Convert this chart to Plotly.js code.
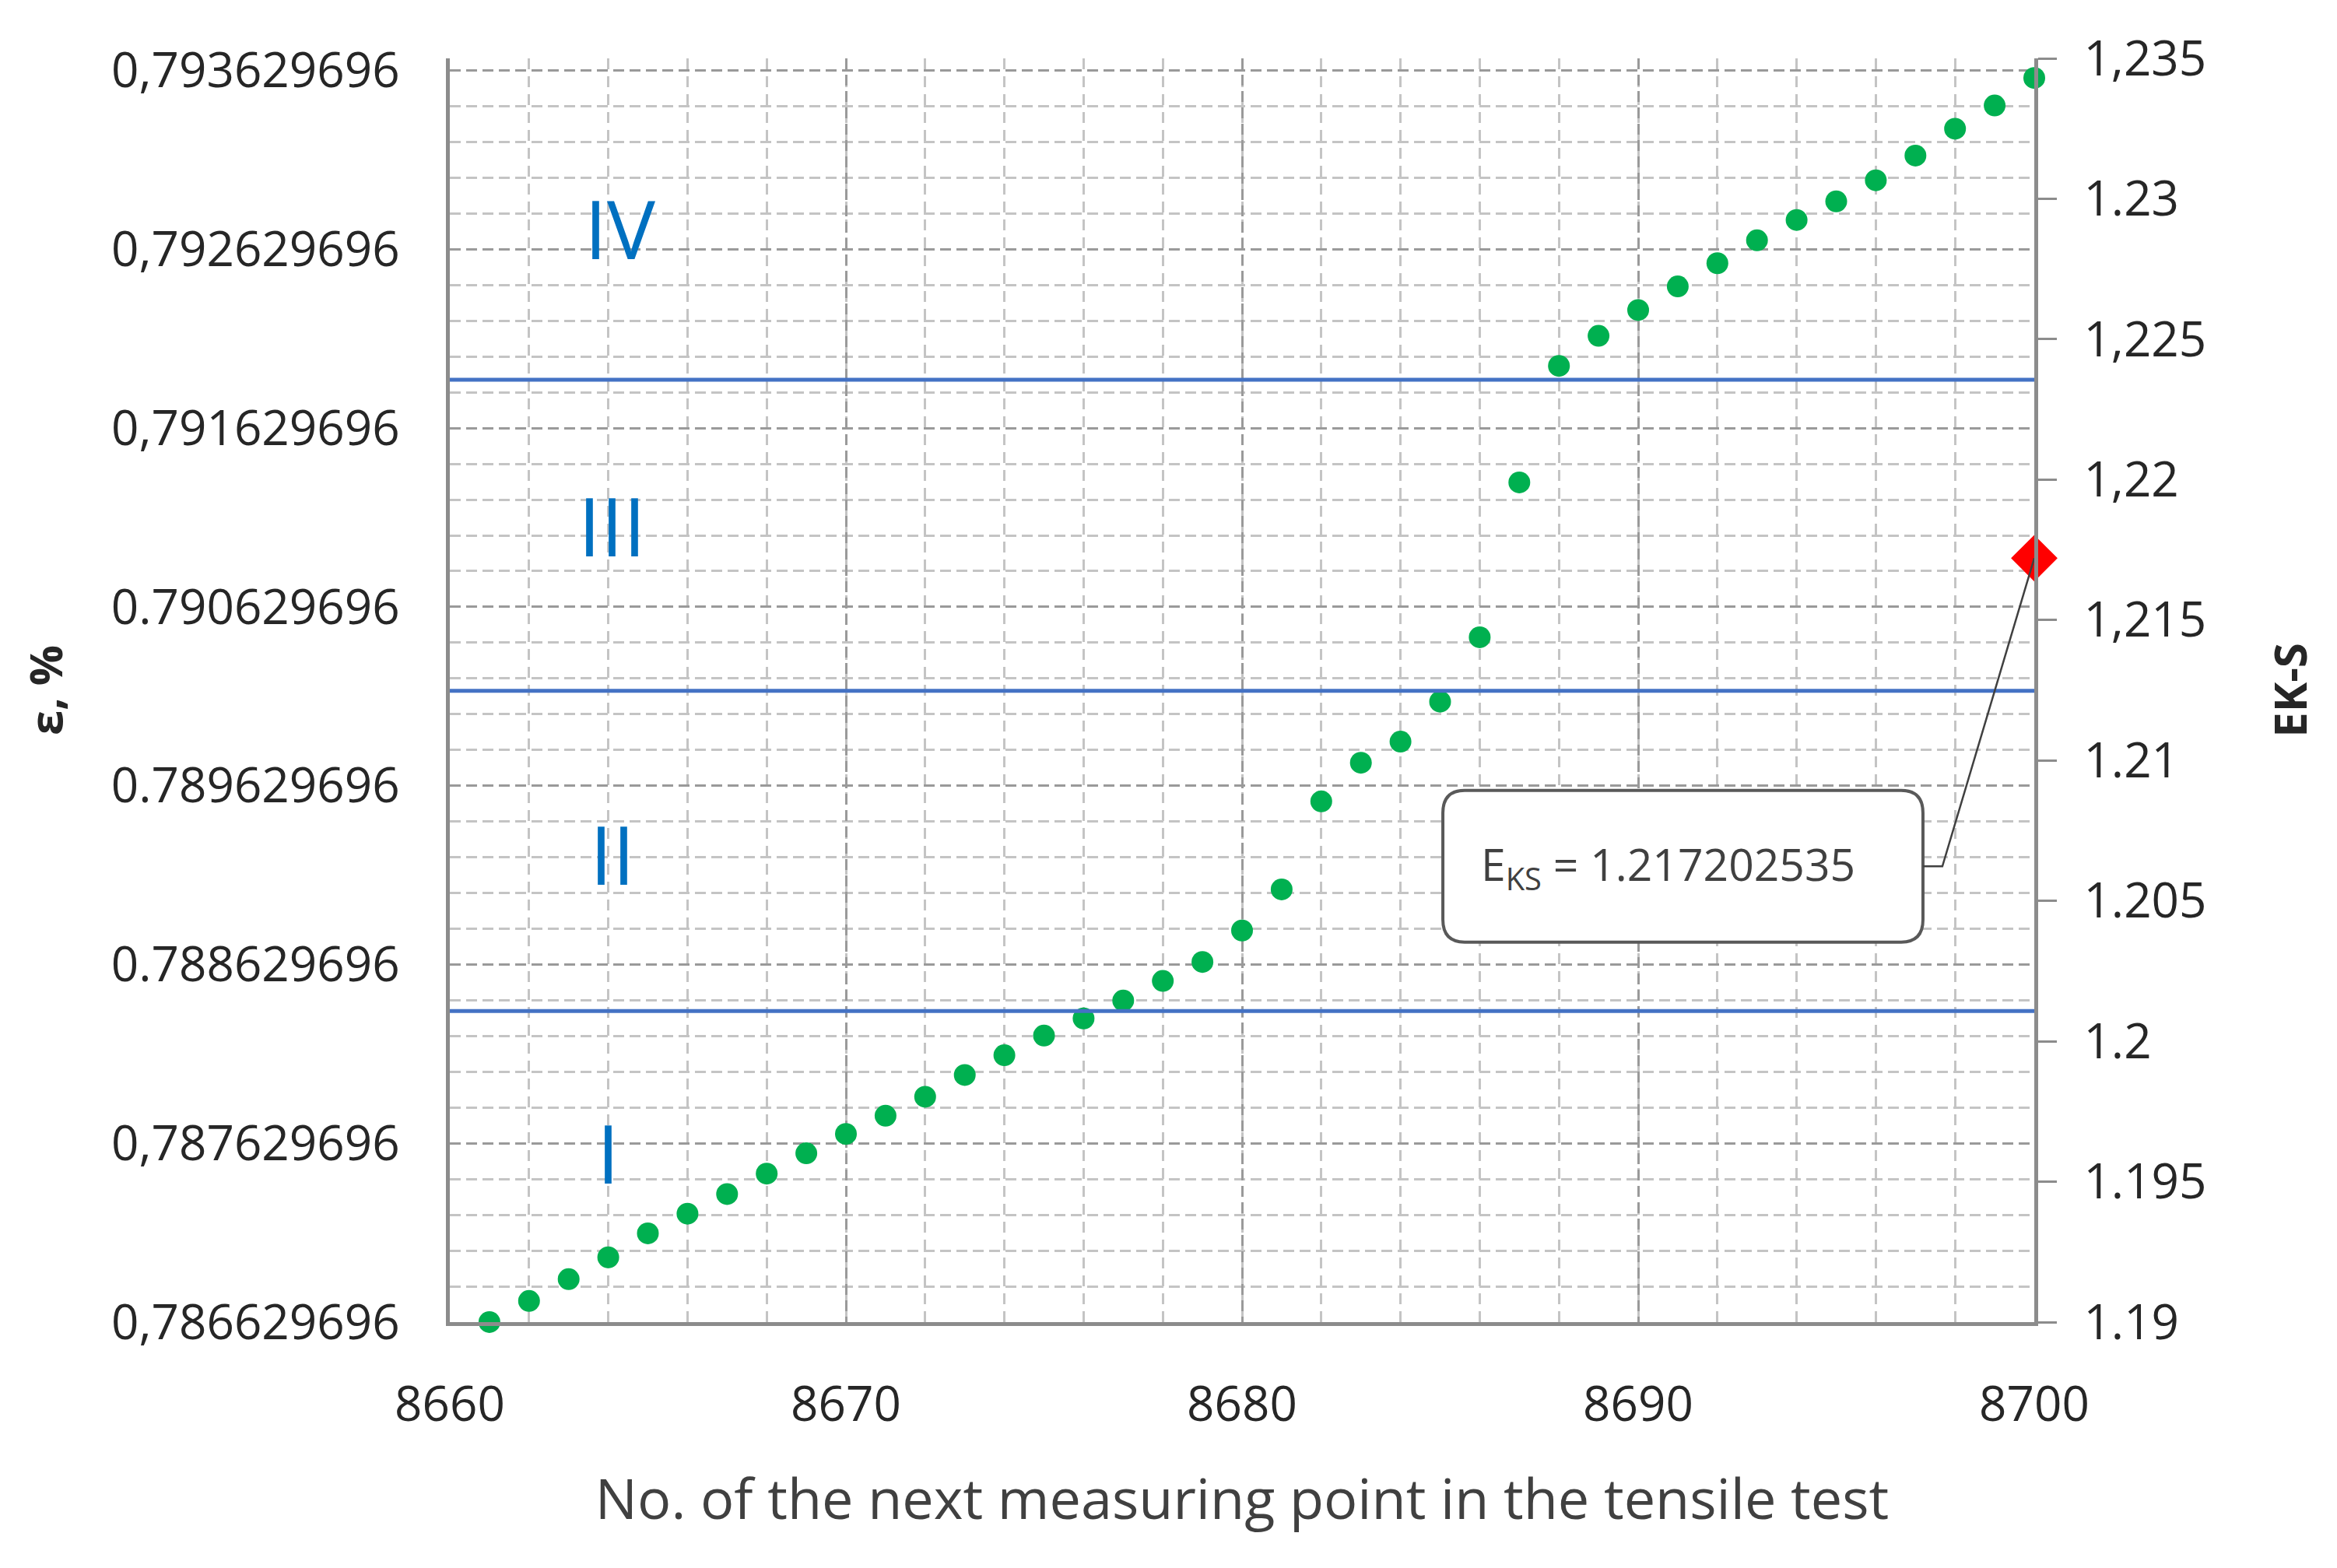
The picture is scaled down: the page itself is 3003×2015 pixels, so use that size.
<!DOCTYPE html>
<html>
<head>
<meta charset="utf-8">
<script src="https://cdn.plot.ly/plotly-3.0.1.min.js"></script>
<style>html,body{margin:0;padding:0;background:#fff}</style>
</head>
<body>
<div id="chart" style="width:3003px;height:2015px"></div>
<script>
// measuring point numbers and strain values (left axis)
const pointNo = [8661, 8662, 8663, 8664, 8665, 8666, 8667, 8668, 8669, 8670,
                 8671, 8672, 8673, 8674, 8675, 8676, 8677, 8678, 8679, 8680,
                 8681, 8682, 8683, 8684, 8685, 8686, 8687, 8688, 8689, 8690,
                 8691, 8692, 8693, 8694, 8695, 8696, 8697, 8698, 8699, 8700];
const strain = [0.786630, 0.786748, 0.786870, 0.786992, 0.787126, 0.787236, 0.787346, 0.787460, 0.787574, 0.787682,
                0.787784, 0.787890, 0.788012, 0.788122, 0.788232, 0.788328, 0.788428, 0.788538, 0.788644, 0.788820,
                0.789050, 0.789542, 0.789758, 0.789876, 0.790100, 0.790460, 0.791326, 0.791978, 0.792146, 0.792290,
                0.792422, 0.792552, 0.792680, 0.792794, 0.792898, 0.793016, 0.793154, 0.793304, 0.793434, 0.793588];

// EK-S point (right axis)
const eksPoint = [8700];
const eksValue = [1.217202535];

// zone boundaries and labels
const zoneBounds = [0.78837, 0.79016, 0.79190];
const zoneLabels = ['I', 'II', 'III', 'IV'];
const zoneLabelX = [8664.0, 8664.1, 8664.1, 8664.3];
const zoneLabelY = [0.78758, 0.78925, 0.79109, 0.79275];

const xTicks = [8660, 8670, 8680, 8690, 8700];
const epsTickVals = [0.786629696, 0.787629696, 0.788629696, 0.789629696, 0.790629696, 0.791629696, 0.792629696, 0.793629696];
const epsTickText = ['0,786629696', '0,787629696', '0.788629696', '0.789629696', '0.790629696', '0,791629696', '0,792629696', '0,793629696'];
const eksTickVals = [1.19, 1.195, 1.2, 1.205, 1.21, 1.215, 1.22, 1.225, 1.23, 1.235];
const eksTickText = ['1.19', '1.195', '1.2', '1.205', '1.21', '1,215', '1,22', '1,225', '1.23', '1,235'];

// callout box (x in point no., y on the EK-S axis)
const boxX = [8685.07, 8697.19];
const boxY = [1.20353, 1.20893];
const boxR = [0.55, 0.0008];
const tailX = 8697.68;

const font = 'Open Sans, Noto Sans, sans-serif';
const axisGray = '#8c8c8c';

const traces = [
    {
        x: pointNo,
        y: strain,
        type: 'scatter',
        mode: 'markers',
        marker: {color: '#00B050', size: 28},
        cliponaxis: false,
        yaxis: 'y'
    },
    {
        x: eksPoint,
        y: eksValue,
        type: 'scatter',
        mode: 'markers',
        marker: {color: '#FF0000', symbol: 'diamond', size: 46},
        cliponaxis: false,
        yaxis: 'y2'
    }
];

const shapes = zoneBounds.map(b => ({
    type: 'line', xref: 'paper', x0: 0, x1: 1, yref: 'y', y0: b, y1: b,
    line: {color: '#4472C4', width: 5}
}));

// rounded box
const [x0, x1] = boxX, [y0, y1] = boxY, [rx, ry] = boxR;
const yMid = (y0 + y1) / 2;
shapes.push({
    type: 'path', xref: 'x', yref: 'y2', layer: 'above',
    path: `M ${x0 + rx},${y1} L ${x1 - rx},${y1} Q ${x1},${y1} ${x1},${y1 - ry} ` +
          `L ${x1},${y0 + ry} Q ${x1},${y0} ${x1 - rx},${y0} L ${x0 + rx},${y0} ` +
          `Q ${x0},${y0} ${x0},${y0 + ry} L ${x0},${y1 - ry} Q ${x0},${y1} ${x0 + rx},${y1} Z`,
    fillcolor: '#ffffff',
    line: {color: '#595959', width: 4}
});
// connector from box to the EK-S point
shapes.push({
    type: 'path', xref: 'x', yref: 'y2', layer: 'above',
    path: `M ${x1},${yMid} L ${tailX},${yMid} L ${eksPoint[0]},${eksValue[0]}`,
    line: {color: '#404040', width: 2.5}
});

const annotations = zoneLabels.map((t, i) => ({
    text: t, x: zoneLabelX[i], y: zoneLabelY[i], xref: 'x', yref: 'y',
    showarrow: false, font: {family: font, size: 104, color: '#0070C0'}
}));

annotations.push({
    text: 'E<sub>KS</sub> = 1.217202535',
    x: 8690.75, y: yMid, xref: 'x', yref: 'y2',
    showarrow: false,
    font: {family: font, size: 57, color: '#404040'}
});

const layout = {
    width: 3003,
    height: 2015,
    margin: {l: 578, r: 389, t: 75, b: 316},
    paper_bgcolor: '#ffffff',
    plot_bgcolor: '#ffffff',
    showlegend: false,
    font: {family: font, color: '#262626'},
    xaxis: {
        range: [8660, 8700],
        tickmode: 'array',
        tickvals: xTicks,
        ticks: '',
        ticklabelstandoff: 48,
        tickfont: {size: 62, color: '#262626'},
        showline: true, linecolor: axisGray, linewidth: 5,
        showgrid: true, gridcolor: '#9a9a9a', gridwidth: 3, griddash: '14px,7px',
        minor: {tickmode: 'linear', tick0: 8660, dtick: 2, showgrid: true,
                gridcolor: '#c4c4c4', gridwidth: 3, griddash: '14px,9px'},
        zeroline: false,
        title: {text: 'No. of the next measuring point in the tensile test',
                font: {size: 72, color: '#404040'}, standoff: 60}
    },
    yaxis: {
        range: [0.786629696, 0.7936977],
        tickmode: 'array',
        tickvals: epsTickVals,
        ticktext: epsTickText,
        ticks: '',
        ticklabelstandoff: 47,
        tickfont: {size: 62, color: '#262626'},
        showline: true, linecolor: axisGray, linewidth: 5,
        showgrid: true, gridcolor: '#9a9a9a', gridwidth: 3, griddash: '14px,7px',
        minor: {tickmode: 'linear', tick0: 0.786629696, dtick: 0.0002, showgrid: true,
                gridcolor: '#c4c4c4', gridwidth: 3, griddash: '14px,7px'},
        zeroline: false,
        title: {text: 'ε, %', font: {size: 58, color: '#262626', weight: 'bold'}, standoff: 45}
    },
    yaxis2: {
        overlaying: 'y',
        side: 'right',
        range: [1.19, 1.235],
        tickmode: 'array',
        tickvals: eksTickVals,
        ticktext: eksTickText,
        ticks: 'outside', ticklen: 24, tickwidth: 3, tickcolor: axisGray,
        ticklabelstandoff: 22,
        tickfont: {size: 62, color: '#262626'},
        showline: true, linecolor: axisGray, linewidth: 5,
        showgrid: false,
        zeroline: false,
        title: {text: 'EK-S', font: {size: 58, color: '#262626', weight: 'bold'}, standoff: 90}
    },
    shapes: shapes,
    annotations: annotations
};

Plotly.newPlot('chart', traces, layout, {staticPlot: true});
</script>
</body>
</html>
